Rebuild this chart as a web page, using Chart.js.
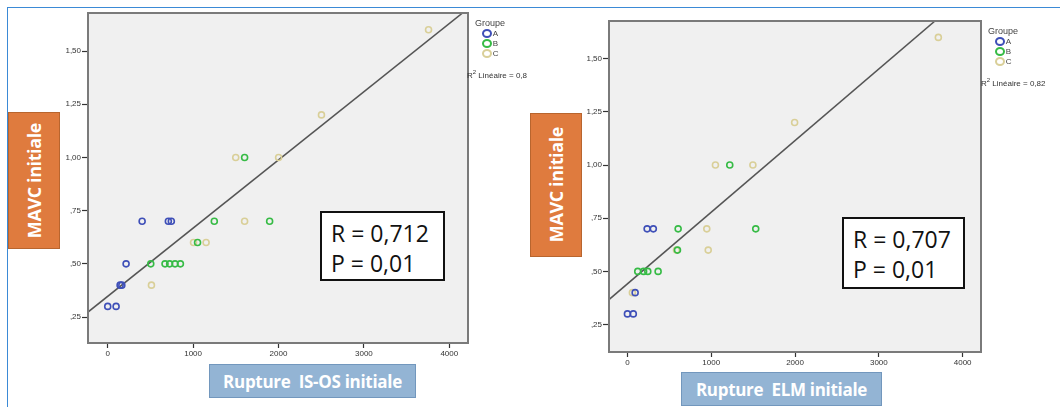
<!DOCTYPE html>
<html>
<head>
<meta charset="utf-8">
<script src="https://cdn.jsdelivr.net/npm/chart.js@4.4.0/dist/chart.umd.min.js"></script>
<style>
  body { margin: 0; background: #fff; width: 1060px; height: 407px; overflow: hidden; position: relative; font-family: "Open Sans", "Liberation Sans", sans-serif; }
  .frame { position: absolute; left: 7px; top: 7px; width: 1060px; height: 410px; border-top: 1.5px solid #3b8ad6; border-left: 1.5px solid #3b8ad6; }
  canvas { position: absolute; }
  .ylab { position: absolute; background: #df7b3e; border: 1.5px solid #b8652e; box-sizing: border-box; color: #fff; font-weight: 700; font-size: 18px; display: flex; align-items: center; justify-content: center; }
  .ylab span { writing-mode: vertical-rl; transform: rotate(180deg); white-space: nowrap; letter-spacing: -0.4px; }
  .xlab { position: absolute; background: #93b4d4; border: 1.5px solid #7297bd; box-sizing: border-box; color: #fff; font-weight: 700; font-size: 17px; display: flex; align-items: center; justify-content: center; white-space: pre; letter-spacing: -0.3px; }
  .rbox { position: absolute; border: 2px solid #111; box-sizing: border-box; background: #fff; color: #111; font-size: 23px; line-height: 30px; padding: 5px 0 0 9px; }
  .leg { position: absolute; font-family: "Liberation Sans", sans-serif; font-size: 8px; color: #444; line-height: 10px; }
  .leg b { font-weight: normal; font-size: 9px; }
  .leg i { display: inline-block; width: 6px; height: 5px; border: 2px solid; border-radius: 50%; vertical-align: middle; margin-right: 1px; }
  .r2 { position: absolute; font-family: "Liberation Sans", sans-serif; font-size: 8px; color: #333; white-space: nowrap; overflow: hidden; }
</style>
</head>
<body>
<div class="frame"></div>

<canvas id="c1" width="440" height="362" style="left:40px;top:0px"></canvas>
<canvas id="c2" width="440" height="371" style="left:560px;top:0px"></canvas>

<div class="ylab" style="left:8px;top:112px;width:52px;height:137px"><span>MAVC initiale</span></div>
<div class="ylab" style="left:530px;top:113px;width:52px;height:144px"><span>MAVC initiale</span></div>
<div class="xlab" style="left:209px;top:364px;width:207px;height:34px">Rupture  IS-OS initiale</div>
<div class="xlab" style="left:681px;top:372px;width:201px;height:34px">Rupture  ELM initiale</div>

<div class="rbox" style="left:320px;top:211px;width:125px;height:70px">R = 0,712<br>P = 0,01</div>
<div class="rbox" style="left:842px;top:217px;width:123px;height:72px">R = 0,707<br>P = 0,01</div>

<div class="leg" style="left:475px;top:18px"><b>Groupe</b><br>
  &nbsp;&nbsp;&nbsp;<i style="border-color:#3e4fb8"></i>A<br>
  &nbsp;&nbsp;&nbsp;<i style="border-color:#36bb45"></i>B<br>
  &nbsp;&nbsp;&nbsp;<i style="border-color:#d9cf98"></i>C</div>
<div class="r2" style="left:467px;top:69px;width:80px">R<sup style="font-size:6px">2</sup> Linéaire = 0,8</div>
<div class="leg" style="left:988px;top:26px"><b>Groupe</b><br>
  &nbsp;&nbsp;&nbsp;<i style="border-color:#3e4fb8"></i>A<br>
  &nbsp;&nbsp;&nbsp;<i style="border-color:#36bb45"></i>B<br>
  &nbsp;&nbsp;&nbsp;<i style="border-color:#d9cf98"></i>C</div>
<div class="r2" style="left:981px;top:77px;width:79px">R<sup style="font-size:6px">2</sup> Linéaire = 0,82</div>

<script>
// axes
const yTicks = [0.25, 0.5, 0.75, 1.0, 1.25, 1.5]
const xTicks = [0, 1000, 2000, 3000, 4000]
const groupes = ["A", "B", "C"]
const couleurs = ["#3e4fb8", "#36bb45", "#d9cf98"]

// graphique 1 : Rupture IS-OS initiale
const isosA_x = [0, 98, 145, 165, 215, 403, 710, 745]
const isosA_y = [0.30, 0.30, 0.40, 0.40, 0.50, 0.70, 0.70, 0.70]
const isosB_x = [504, 671, 725, 788, 851, 1052, 1248, 1603, 1896]
const isosB_y = [0.50, 0.50, 0.50, 0.50, 0.50, 0.60, 0.70, 1.00, 0.70]
const isosC_x = [512, 1005, 1152, 1499, 1603, 2001, 2503, 3757]
const isosC_y = [0.40, 0.60, 0.60, 1.00, 0.70, 1.00, 1.20, 1.60]
const isosFit = { a: 0.3475, b: 0.0003205 }

// graphique 2 : Rupture ELM initiale
const elmA_x = [0, 70, 92, 235, 309]
const elmA_y = [0.30, 0.30, 0.40, 0.70, 0.70]
const elmB_x = [123, 193, 243, 366, 597, 605, 1221, 1531]
const elmB_y = [0.50, 0.50, 0.50, 0.50, 0.60, 0.70, 1.00, 0.70]
const elmC_x = [59, 585, 947, 964, 1050, 1497, 1995, 3710]
const elmC_y = [0.40, 0.60, 0.70, 0.60, 1.00, 1.00, 1.20, 1.60]
const elmFit = { a: 0.4416, b: 0.0003367 }

const toPts = (xs, ys) => xs.map((x, i) => ({ x: x, y: ys[i] }))

const fond = {
    id: 'fond',
    beforeDraw(chart) {
        const a = chart.chartArea, ctx = chart.ctx
        ctx.save()
        ctx.fillStyle = '#f0f0f0'
        ctx.fillRect(a.left, a.top, a.right - a.left, a.bottom - a.top)
        ctx.restore()
    },
    afterDraw(chart) {
        const a = chart.chartArea, ctx = chart.ctx
        ctx.save()
        ctx.strokeStyle = '#7a7a7a'
        ctx.lineWidth = 2
        ctx.strokeRect(a.left, a.top, a.right - a.left, a.bottom - a.top)
        ctx.restore()
    }
}

function graphique(id, series, fit, lim, pad, yWidth, xHeight) {
    const datasets = series.map((s, i) => ({
        type: 'scatter',
        label: groupes[i],
        data: toPts(s[0], s[1]),
        borderColor: couleurs[i],
        backgroundColor: 'rgba(0,0,0,0)',
        pointRadius: 3,
        borderWidth: 1.6
    }))
    datasets.push({
        type: 'line',
        label: 'fit',
        data: [lim.xmin, lim.xmax].map(x => ({ x: x, y: fit.a + fit.b * x })),
        borderColor: '#555',
        borderWidth: 1.5,
        pointRadius: 0,
        fill: false
    })
    new Chart(document.getElementById(id), {
        data: { datasets: datasets },
        plugins: [fond],
        options: {
            responsive: false,
            animation: false,
            layout: { padding: pad },
            plugins: { legend: { display: false }, tooltip: { enabled: false } },
            scales: {
                x: {
                    type: 'linear', min: lim.xmin, max: lim.xmax,
                    afterBuildTicks: s => { s.ticks = xTicks.map(v => ({ value: v })) },
                    afterFit: s => { s.height = xHeight },
                    grid: { drawOnChartArea: false, drawTicks: true, tickLength: 5, tickWidth: 1.2, tickColor: '#333' },
                    border: { display: false },
                    ticks: { font: { family: 'Liberation Sans', size: 8 }, color: '#333', padding: 1, maxRotation: 0,
                        callback: v => String(v) }
                },
                y: {
                    type: 'linear', min: lim.ymin, max: lim.ymax,
                    afterBuildTicks: s => { s.ticks = yTicks.map(v => ({ value: v })) },
                    afterFit: s => { s.width = yWidth },
                    grid: { drawOnChartArea: false, drawTicks: true, tickLength: 6, tickWidth: 1.2, tickColor: '#333' },
                    border: { display: false },
                    ticks: {
                        font: { family: 'Liberation Sans', size: 8 }, color: '#333', padding: 1,
                        callback: v => v.toFixed(2).replace('.', ',').replace(/^0/, '')
                    }
                }
            }
        }
    })
}

graphique('c1',
    [[isosA_x, isosA_y], [isosB_x, isosB_y], [isosC_x, isosC_y]],
    isosFit,
    { xmin: -231, xmax: 4219, ymin: 0.128, ymax: 1.679 },
    { top: 13, right: 12, left: 0, bottom: 0 }, 48, 19)

graphique('c2',
    [[elmA_x, elmA_y], [elmB_x, elmB_y], [elmC_x, elmC_y]],
    elmFit,
    { xmin: -220, xmax: 4219, ymin: 0.121, ymax: 1.677 },
    { top: 21, right: 19, left: 0, bottom: 0 }, 49, 19)
</script>
</body>
</html>
